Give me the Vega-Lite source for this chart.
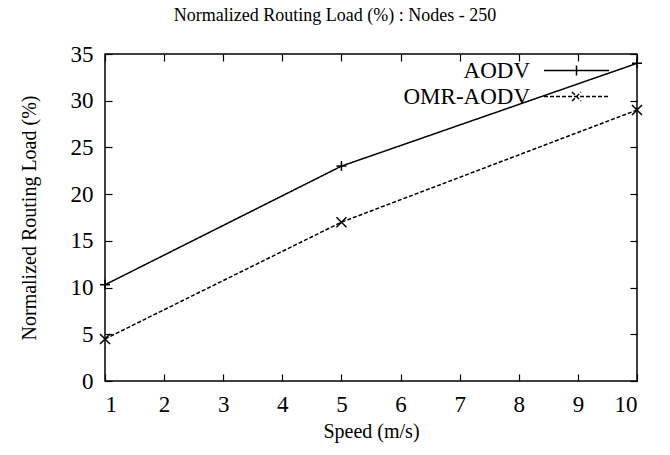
{
  "$schema": "https://vega.github.io/schema/vega-lite/v6.json",
  "width": 532,
  "height": 327,
  "autosize": "none",
  "padding": {"left": 105, "top": 54, "right": 33, "bottom": 74},
  "background": "white",
  "config": {
    "font": "Liberation Serif",
    "view": {"stroke": "black", "strokeWidth": 1.5},
    "axis": {
      "grid": false,
      "domain": false,
      "tickColor": "black",
      "tickWidth": 1.2,
      "tickSize": -7,
      "labelColor": "black",
      "labelFontSize": 23,
      "labelFont": "Liberation Serif",
      "titleFont": "Liberation Serif",
      "titleFontSize": 20,
      "titleFontWeight": "normal",
      "titleColor": "black"
    }
  },
  "title": {
    "text": "Normalized Routing Load (%) : Nodes - 250",
    "fontSize": 18,
    "fontWeight": "normal",
    "font": "Liberation Serif",
    "color": "black",
    "offset": 18,
    "dx": -36
  },
  "data": {
    "values": [
      {"protocol": "AODV", "speed": 1, "load": 10.3},
      {"protocol": "AODV", "speed": 5, "load": 23},
      {"protocol": "AODV", "speed": 10, "load": 34},
      {"protocol": "OMR-AODV", "speed": 1, "load": 4.5},
      {"protocol": "OMR-AODV", "speed": 5, "load": 17},
      {"protocol": "OMR-AODV", "speed": 10, "load": 29}
    ]
  },
  "layer": [
    {
      "mark": {"type": "line", "strokeWidth": 1.5, "color": "black"},
      "encoding": {
        "x": {
          "field": "speed", "type": "quantitative",
          "scale": {"domain": [1, 10], "nice": false, "zero": false},
          "axis": {"orient": "bottom", "values": [1, 2, 3, 4, 5, 6, 7, 8, 9, 10], "title": "Speed (m/s)", "labelPadding": 19, "titlePadding": 5}
        },
        "y": {
          "field": "load", "type": "quantitative",
          "scale": {"domain": [0, 35], "nice": false},
          "axis": {"orient": "left", "values": [0, 5, 10, 15, 20, 25, 30, 35], "title": "Normalized Routing Load (%)", "labelPadding": 19, "titlePadding": 31}
        },
        "strokeDash": {
          "field": "protocol", "type": "nominal",
          "scale": {"domain": ["AODV", "OMR-AODV"], "range": [[1, 0], [4, 2]]},
          "legend": {
            "orient": "none",
            "legendX": 460,
            "legendY": 5,
            "title": null,
            "padding": 0,
            "labelFontSize": 23,
            "labelFont": "Liberation Serif",
            "labelColor": "black",
            "labelAlign": "right",
            "labelOffset": -58,
            "labelLimit": 0,
            "symbolSize": 400,
            "symbolStrokeWidth": 1.5,
            "symbolStrokeColor": "black",
            "rowPadding": 2,
            "encode": {
              "symbols": {"update": {"shape": {"signal": "datum.value === 'AODV' ? 'M-18,0M-3.25,0L3.25,0M0,-0.5L0,0.5' : 'M-18,0M-3.25,0L3.25,0M-0.45,-0.45L0.45,0.45M-0.45,0.45L0.45,-0.45'"}}}
            }
          }
        }
      }
    },
    {
      "transform": [{"filter": "datum.protocol === 'AODV'"}],
      "mark": {"type": "point", "filled": false, "stroke": "black", "strokeWidth": 1.5, "size": 100, "opacity": 1, "shape": "M-1,0L1,0M0,-1L0,1"},
      "encoding": {
        "x": {
          "field": "speed", "type": "quantitative",
          "scale": {"domain": [1, 10], "nice": false, "zero": false},
          "axis": {"orient": "top", "values": [1, 2, 3, 4, 5, 6, 7, 8, 9, 10], "labels": false, "title": null}
        },
        "y": {
          "field": "load", "type": "quantitative",
          "scale": {"domain": [0, 35], "nice": false},
          "axis": {"orient": "right", "values": [0, 5, 10, 15, 20, 25, 30, 35], "labels": false, "title": null}
        }
      }
    },
    {
      "transform": [{"filter": "datum.protocol === 'OMR-AODV'"}],
      "mark": {"type": "point", "filled": false, "stroke": "black", "strokeWidth": 1.5, "size": 100, "opacity": 1, "shape": "M-1,-1L1,1M-1,1L1,-1"},
      "encoding": {
        "x": {"field": "speed", "type": "quantitative", "scale": {"domain": [1, 10], "nice": false, "zero": false}, "axis": null},
        "y": {"field": "load", "type": "quantitative", "scale": {"domain": [0, 35], "nice": false}, "axis": null}
      }
    }
  ],
  "resolve": {"axis": {"x": "independent", "y": "independent"}}
}
